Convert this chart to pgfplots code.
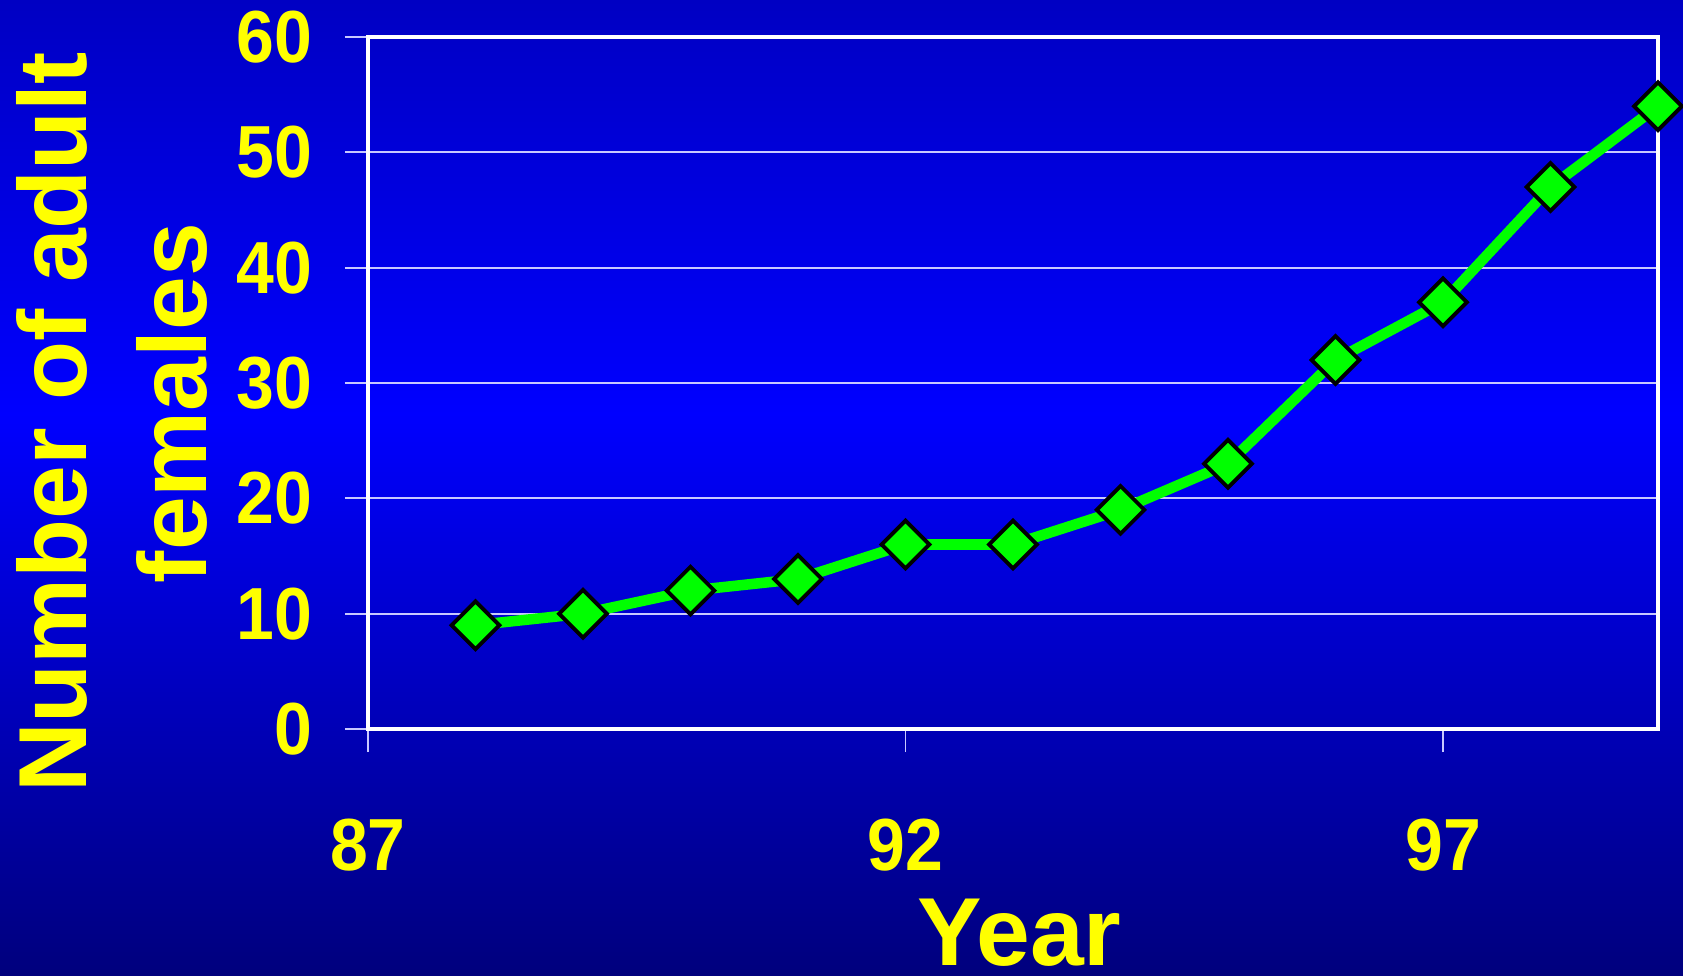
\documentclass[border=0pt]{standalone}
\usepackage{pgfplots}
\pgfplotsset{compat=1.18}
\usepackage{fontspec}
\setmainfont{Liberation Sans}
\newfontfamily\tickfont{Liberation Sans}[FakeStretch=0.92]

\definecolor{bgtop}{RGB}{0,0,195}
\definecolor{bgmid}{RGB}{0,0,255}
\definecolor{bgbot}{RGB}{0,0,125}
\definecolor{gridc}{RGB}{200,200,255}
\definecolor{lgreen}{RGB}{0,255,0}
\definecolor{lab}{RGB}{255,255,0}

\begin{document}
\begin{tikzpicture}
  \path[use as bounding box] (0,0) rectangle (16.83cm,9.75cm);
  % slide background
  \shade[bottom color=bgbot, top color=bgmid] (0,0) rectangle (16.83cm,5.62cm);
  \shade[bottom color=bgmid, top color=bgtop] (0,5.6cm) rectangle (16.83cm,9.75cm);
  \begin{axis}[
    at={(3.68cm,2.46cm)}, anchor=south west,
    scale only axis,
    width=12.9cm, height=6.92cm,
    xmin=87, xmax=99,
    ymin=0, ymax=60,
    xtick={87,92,97},
    ytick distance=10,
    xtick pos=bottom, ytick pos=left,
    tick align=outside,
    major tick length=0.23cm,
    tick style={draw=gridc, line width=0.5pt},
    ymajorgrids=true,
    major grid style={draw=gridc, line width=0.5pt},
    axis line style={draw=white, line width=1.4pt},
    clip=false,
    /pgf/number format/assume math mode=true,
    ticklabel style={text=lab, font=\fontsize{21}{25}\tickfont\bfseries, inner sep=0pt},
    xticklabel style={anchor=north, yshift=-0.66cm},
    yticklabel style={anchor=east, xshift=-0.32cm},
    xlabel={Year},
    xlabel style={at={(axis description cs:0.505,0)}, anchor=base, yshift=-2.36cm,
      text=lab, font=\fontsize{27.5}{33}\selectfont\bfseries},
    ylabel={Number of adult\rule{0.4em}{0pt}\\females},
    ylabel style={at={(axis description cs:-0.1985,0.471)}, anchor=center, rotate=0,
      align=center, text=lab, font=\fontsize{27.5}{34}\selectfont\bfseries},
  ]
    \addplot[draw=lgreen, line width=3pt, mark=square*,
      mark size=4.8pt,
      mark options={rotate=45, fill=lgreen, draw=black, line width=1.1pt}]
      coordinates {
        (88,9) (89,10) (90,12) (91,13) (92,16) (93,16)
        (94,19) (95,23) (96,32) (97,37) (98,47) (99,54)
      };
  \end{axis}
\end{tikzpicture}
\end{document}
